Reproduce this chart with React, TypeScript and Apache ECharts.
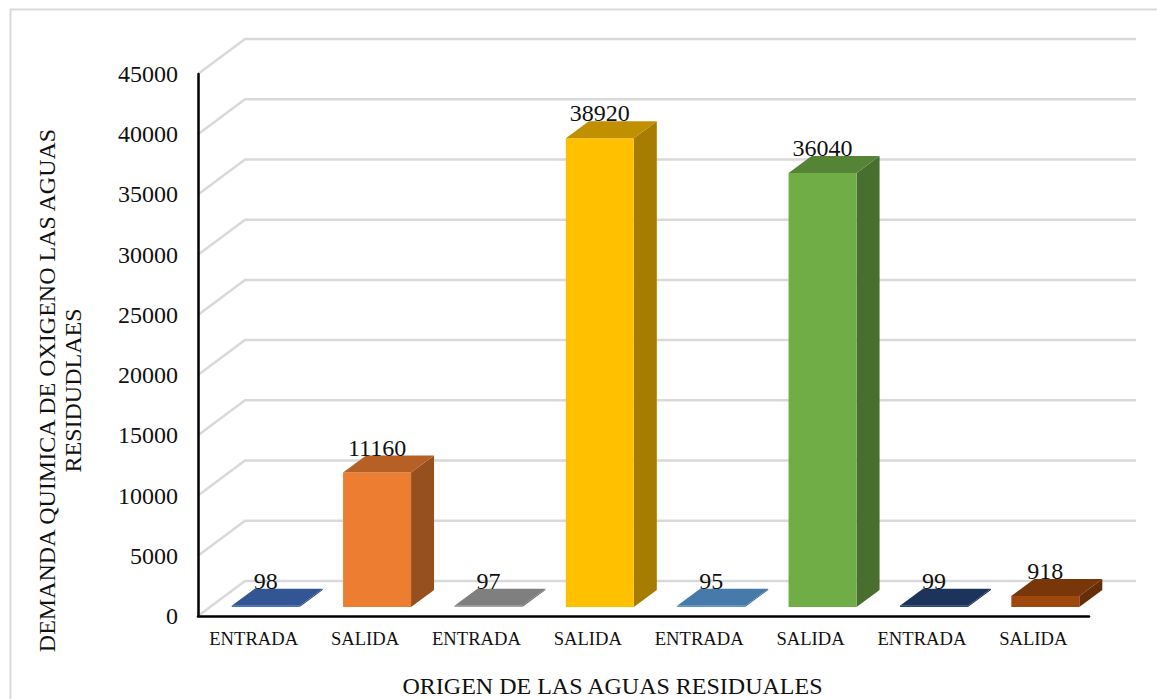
import React, { useEffect, useRef } from "react";
import * as echarts from "echarts";

const categories = ["ENTRADA", "SALIDA", "ENTRADA", "SALIDA", "ENTRADA", "SALIDA", "ENTRADA", "SALIDA"];
const values = [98, 11160, 97, 38920, 95, 36040, 99, 918];
const frontColors = ["#4472C4", "#ED7D31", "#A5A5A5", "#FFC000", "#5B9BD5", "#70AD47", "#264478", "#9E480E"];
const topColors = ["#335593", "#B66026", "#7F7F7F", "#C09000", "#467AA8", "#568437", "#1C345C", "#783609"];
const sideColors = ["#2C4A80", "#964F1E", "#6E6E6E", "#A67D00", "#3C6A92", "#486F2D", "#182D50", "#652E08"];
const yTicks = [0, 5000, 10000, 15000, 20000, 25000, 30000, 35000, 40000, 45000];

const FONT = "'Liberation Serif'";
const DX = 23;
const DY = -17;
const BAR_W = 68;
const BAR_SHIFT = 12;
const BASE_LIFT = 9;
const WALL_DX = 47;
const WALL_DY = -35;

export default function App() {
  const ref = useRef<HTMLDivElement>(null);
  useEffect(() => {
    document.body.style.margin = "0";
    const chart = echarts.init(ref.current!, null, { renderer: "svg" });
    chart.setOption({
      animation: false,
      backgroundColor: "#ffffff",
      graphic: [
        {
          type: "rect",
          z: 0,
          shape: { x: 10.5, y: 9.5, width: 1160, height: 720 },
          style: { fill: "none", stroke: "#D9D9D9", lineWidth: 2 },
        },
      ],
      grid: { left: 198, top: 74, width: 891, height: 542, outerBoundsMode: "none", containLabel: false },
      xAxis: {
        type: "category",
        data: categories,
        axisLine: { lineStyle: { color: "#000", width: 2.5 } },
        axisTick: { show: false },
        axisLabel: { fontFamily: FONT, fontSize: 18.6, color: "#111", margin: 13, interval: 0 },
        name: "ORIGEN DE LAS AGUAS RESIDUALES",
        nameLocation: "middle",
        nameGap: 58,
        nameTextStyle: { fontFamily: FONT, fontSize: 24, color: "#111", padding: [0, 62, 0, 0] },
        z: 5,
      },
      yAxis: {
        type: "value",
        min: 0,
        max: 45000,
        interval: 5000,
        splitLine: { show: false },
        axisLine: { show: true, lineStyle: { color: "#000", width: 2.5 } },
        axisTick: { show: false },
        axisLabel: {
          fontFamily: FONT,
          fontSize: 24,
          color: "#111",
          margin: 20,
          formatter: (v: number) => String(v),
        },
        name: "DEMANDA QUIMICA DE OXIGENO LAS AGUAS\nRESIDUDLAES",
        nameLocation: "middle",
        nameRotate: 90,
        nameGap: 112,
        nameTextStyle: {
          fontFamily: FONT,
          fontSize: 24,
          color: "#111",
          lineHeight: 26,
          align: "center",
          padding: [0, 91, 0, 0],
        },
        z: 5,
      },
      series: [
        {
          type: "custom",
          silent: true,
          z: 1,
          data: yTicks.map((v) => [0, v]),
          encode: { y: 1 },
          renderItem: (params: any, api: any) => {
            const [, y] = api.coord([0, api.value(1)]);
            const rect = params.coordSys;
            const style = { stroke: "#D9D9D9", lineWidth: 2.5, fill: "none" };
            return {
              type: "polyline",
              shape: {
                points: [
                  [rect.x, y],
                  [rect.x + WALL_DX, y + WALL_DY],
                  [rect.x + rect.width + WALL_DX, y + WALL_DY],
                ],
              },
              style,
            };
          },
        },
        {
          type: "custom",
          silent: true,
          z: 3,
          data: values.map((v, i) => [i, v]),
          encode: { x: 0, y: 1 },
          renderItem: (params: any, api: any) => {
            const i = api.value(0);
            const v = api.value(1);
            const [cx, y] = api.coord([i, v]);
            const [, y0] = api.coord([i, 0]);
            const x0 = cx + BAR_SHIFT - BAR_W / 2;
            const x1 = x0 + BAR_W;
            const base = y0 - BASE_LIFT;
            const top = y - BASE_LIFT;
            const children: any[] = [
              {
                type: "polygon",
                shape: { points: [[x1, base], [x1 + DX, base + DY], [x1 + DX, top + DY], [x1, top]] },
                style: { fill: sideColors[i] },
              },
              {
                type: "rect",
                shape: { x: x0, y: top, width: BAR_W, height: base - top },
                style: { fill: frontColors[i] },
              },
              {
                type: "polygon",
                shape: { points: [[x0, top], [x0 + DX, top + DY], [x1 + DX, top + DY], [x1, top]] },
                style: { fill: topColors[i] },
              },
            ];
            return { type: "group", children };
          },
        },
        {
          type: "custom",
          silent: true,
          z: 4,
          data: values.map((v, i) => [i, v]),
          encode: { x: 0, y: 1 },
          renderItem: (params: any, api: any) => {
            const i = api.value(0);
            const v = api.value(1);
            const [cx, y] = api.coord([i, v]);
            return {
              type: "text",
              x: cx + BAR_SHIFT,
              y: y - BASE_LIFT + DY - 8,
              style: {
                text: String(values[i]),
                fontFamily: FONT,
                fontSize: 24,
                fill: "#111",
                align: "center",
                verticalAlign: "middle",
              },
            };
          },
        },
      ],
    });
    return () => chart.dispose();
  }, []);
  return <div ref={ref} style={{ position: "absolute", left: 0, top: 0, width: 1157, height: 699 }} />;
}
